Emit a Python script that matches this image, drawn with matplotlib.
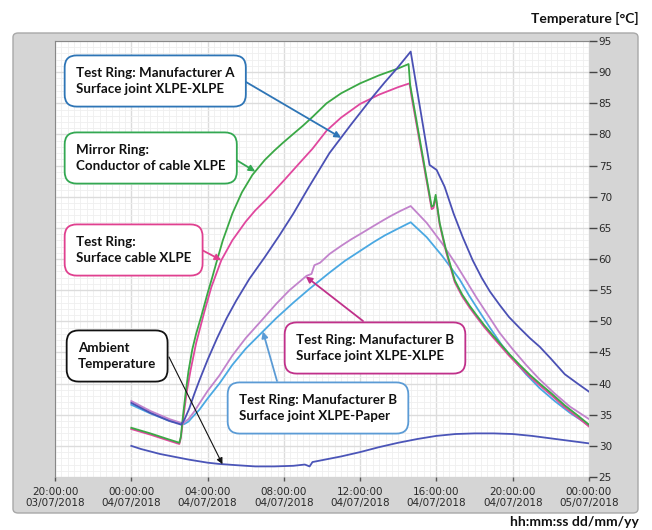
import numpy as np
import matplotlib.pyplot as plt
from matplotlib.patches import FancyBboxPatch
from matplotlib.ticker import MultipleLocator

# hours relative to 00:00:00 04/07/2018
ambient_t = [0, 0.5, 1.0, 1.5, 2.0, 3.0, 4.0, 4.6, 5.5, 6.5, 7.5, 8.5, 9.1, 9.35, 9.5, 10.0, 11.0,
             12.0, 13.0, 14.0, 15.0, 16.0, 17.0, 18.0, 19.0, 20.0, 21.0, 22.0, 23.0, 24.0]
ambient_T = [30.0, 29.5, 29.1, 28.7, 28.4, 27.8, 27.3, 27.1, 26.9, 26.7, 26.7, 26.8, 27.0, 26.7, 27.4, 27.7, 28.3,
             29.0, 29.8, 30.5, 31.1, 31.6, 31.9, 32.0, 32.0, 31.9, 31.6, 31.2, 30.8, 30.4]

manA_t = [0, 1.0, 2.0, 2.62, 2.8, 3.04, 3.3, 3.57, 4.0, 4.5, 5.0, 5.5, 6.19, 7.0, 7.77, 8.5, 9.3,
          10.39, 11.5, 12.65, 13.3, 13.96, 14.65, 15.64, 16.01, 16.43, 16.9, 17.38, 17.9, 18.37,
          18.8, 19.32, 19.8, 20.37, 20.9, 21.42, 22.0, 22.73, 23.4, 24.0]
manA_T = [36.9, 35.3, 34.0, 33.4, 34.3, 36.0, 38.3, 40.5, 43.8, 47.3, 50.5, 53.3, 56.8, 60.3, 63.8, 67.3, 71.5,
          77.0, 81.5, 86.0, 88.4, 90.7, 93.3, 75.1, 74.3, 71.6, 67.3, 63.5, 59.8, 57.0,
          54.8, 52.6, 50.7, 48.9, 47.3, 45.9, 44.0, 41.5, 40.0, 38.7]

mirror_t = [0, 1.0, 2.0, 2.52, 2.6, 2.7, 2.85, 3.0, 3.2, 3.4, 3.67, 4.0, 4.25, 4.46, 4.8, 5.3, 5.8,
            6.35, 7.0, 7.5, 7.93, 8.5, 9.0, 9.5, 10.24, 11.0, 12.0, 13.0, 14.0, 14.54,
            14.62, 15.75, 15.85, 15.96, 16.17, 16.5, 16.96, 17.35, 17.74, 18.1, 18.5, 19.0, 19.32,
            19.8, 20.37, 20.9, 21.42, 22.0, 22.73, 23.4, 24.0]
mirror_T = [32.9, 32.0, 31.0, 30.5, 31.5, 34.5, 38.5, 42.0, 45.5, 48.0, 50.8, 54.5, 57.1, 59.4, 63.0, 67.3, 70.7,
            73.5, 75.9, 77.4, 78.6, 80.1, 81.4, 82.8, 85.0, 86.6, 88.2, 89.5, 90.6, 91.3,
            88.0, 68.4, 68.6, 70.3, 65.8, 61.5, 56.6, 54.3, 52.5, 51.0, 49.4, 47.6, 46.5,
            44.8, 43.0, 41.4, 40.0, 38.5, 36.5, 34.9, 33.4]

cable_t = [0, 1.0, 2.0, 2.52, 2.6, 2.75, 2.9, 3.1, 3.4, 3.83, 4.2, 4.72, 5.3, 6.0, 6.5, 7.09, 8.0,
           8.82, 9.5, 10.24, 11.0, 12.0, 13.0, 14.0, 14.59,
           14.7, 15.75, 15.85, 15.96, 16.17, 16.5, 16.96, 17.35, 17.74, 18.1, 18.5, 19.0, 19.32,
           19.8, 20.37, 20.9, 21.42, 22.0, 22.73, 23.4, 24.0]
cable_T = [32.7, 31.8, 30.8, 30.3, 31.3, 35.0, 38.5, 42.0, 46.5, 51.5, 55.5, 59.8, 63.0, 66.0, 67.8, 69.6, 72.6,
           75.4, 77.7, 80.6, 82.7, 84.9, 86.4, 87.6, 88.2,
           86.0, 68.0, 68.2, 70.0, 65.5, 61.2, 56.3, 54.0, 52.2, 50.7, 49.1, 47.3, 46.2,
           44.5, 42.7, 41.1, 39.7, 38.2, 36.2, 34.6, 33.1]

manBx_t = [0, 1.0, 2.0, 2.7, 3.0, 3.3, 3.57, 4.0, 4.62, 5.3, 6.0, 6.88, 7.6, 8.3, 9.19, 9.45, 9.6,
           9.9, 10.39, 11.0, 11.5, 12.0, 12.65, 13.2, 13.6, 14.1, 14.65,
           15.49, 16.3, 17.06, 17.6, 18.1, 18.7, 19.3, 20.0, 20.7, 21.4, 22.2, 23.0, 24.0]
manBx_T = [37.2, 35.6, 34.3, 33.6, 34.3, 35.5, 36.8, 38.8, 41.3, 44.5, 47.3, 50.3, 52.8, 55.0, 57.3, 57.6, 59.0,
           59.4, 60.8, 62.1, 63.1, 64.0, 65.2, 66.2, 66.9, 67.7, 68.5,
           65.8, 62.5, 59.0, 56.3, 53.8, 51.0, 48.2, 45.5, 43.0, 40.7, 38.4, 36.3, 34.3]

manBp_t = [0, 1.0, 2.0, 2.78, 3.0, 3.2, 3.57, 4.0, 4.62, 5.3, 6.0, 6.88, 7.6, 8.5, 9.34, 10.39,
           11.2, 12.0, 12.7, 13.3, 14.0, 14.65,
           15.49, 16.3, 17.22, 17.7, 18.2, 18.8, 19.4, 20.0, 20.7, 21.4, 22.2, 23.0, 24.0]
manBp_T = [36.6, 35.2, 34.0, 33.5, 33.9, 34.6, 35.8, 37.6, 40.0, 43.0, 45.6, 48.3, 50.5, 53.0, 55.2, 57.8,
           59.7, 61.3, 62.7, 63.8, 64.9, 65.9,
           63.5, 60.5, 56.7, 54.2, 51.8, 49.0, 46.3, 44.0, 41.5, 39.3, 37.2, 35.3, 33.3]

tick_hours = [-4, 0, 4, 8, 12, 16, 20, 24]
tick_labels = ["20:00:00\n03/07/2018", "00:00:00\n04/07/2018", "04:00:00\n04/07/2018",
               "08:00:00\n04/07/2018", "12:00:00\n04/07/2018", "16:00:00\n04/07/2018",
               "20:00:00\n04/07/2018", "00:00:00\n05/07/2018"]

W, H = 652, 530
fig = plt.figure(figsize=(W / 100, H / 100), dpi=100)

def fx(x):
    return x / W

def fy(y):
    return 1 - y / H

# gray instrument panel
panel = FancyBboxPatch((fx(13), fy(513)), fx(638) - fx(13), fy(33) - fy(513),
                       boxstyle="round,pad=0,rounding_size=0.008", transform=fig.transFigure,
                       facecolor="#d5d5d5", edgecolor="#a8a8a8", lw=1.0, zorder=-5)
fig.patches.append(panel)

ax = fig.add_axes([fx(55), fy(477), fx(589) - fx(55), fy(41) - fy(477)])
ax.set_zorder(1)
ax.set_xlim(-4, 24)
ax.set_ylim(25, 95)

ax.xaxis.set_major_locator(MultipleLocator(4))
ax.xaxis.set_minor_locator(MultipleLocator(1 / 3))
ax.yaxis.set_major_locator(MultipleLocator(5))
ax.yaxis.set_minor_locator(MultipleLocator(1))
ax.grid(which="minor", color="#efefef", lw=0.6)
ax.grid(which="major", color="#dcdcdc", lw=1.0)
ax.set_axisbelow(True)

ax.set_xticks(tick_hours)
ax.set_xticklabels(tick_labels)
ax.yaxis.tick_right()
ax.tick_params(axis="x", which="major", length=3, width=1, color="#555555", pad=4,
               labelsize=7.5, labelcolor="#2a2a2a")
ax.tick_params(axis="y", which="major", length=6, width=1, color="#444444", pad=1,
               labelsize=7.5, labelcolor="#2a2a2a")
ax.tick_params(which="minor", length=0)
for s in ["right", "bottom"]:
    ax.spines[s].set_visible(False)
ax.spines["left"].set_color("#888888")
ax.spines["top"].set_color("#888888")

lw = 1.3
ax.plot(manBp_t, manBp_T, color="#4aa8e2", lw=lw)
ax.plot(manBx_t, manBx_T, color="#c283cc", lw=lw)
ax.plot(cable_t, cable_T, color="#e0479e", lw=lw)
ax.plot(mirror_t, mirror_T, color="#3aa845", lw=lw)
ax.plot(manA_t, manA_T, color="#4a50b4", lw=lw)
ax.plot(ambient_t, ambient_T, color="#4b55b8", lw=lw)

boxes = [
    ("Test Ring: Manufacturer A\nSurface joint XLPE-XLPE", 76, 81, "#2e75b6",
     (246, 82), manA_t, manA_T, 11.0),
    ("Mirror Ring:\nConductor of cable XLPE", 76, 158, "#33a852",
     (233, 158), mirror_t, mirror_T, 6.5),
    ("Test Ring:\nSurface cable XLPE", 76, 250, "#e0408f",
     (200, 249), cable_t, cable_T, 4.72),
    ("Ambient\nTemperature", 78, 356, "#111111",
     (169, 357), ambient_t, ambient_T, 4.78),
    ("Test Ring: Manufacturer B\nSurface joint XLPE-XLPE", 296, 348, "#c0308a",
     (363, 321), manBx_t, manBx_T, 9.15),
    ("Test Ring: Manufacturer B\nSurface joint XLPE-Paper", 239, 408, "#5b9bd5",
     (277, 381), manBp_t, manBp_T, 6.9),
]

for text, tx, ty, col, start, ts, Ts, t_hit in boxes:
    fig.text(fx(tx), fy(ty), text, ha="left", va="center", fontsize=9.6, family="Lato",
             weight="bold", color="#111111", linespacing=1.45, zorder=5,
             bbox=dict(boxstyle="round,pad=0.85,rounding_size=0.9", fc="white", ec=col, lw=1.3))
    arrow_lw = 0.8 if col == "#111111" else 1.3
    ax.annotate("", xy=(t_hit, np.interp(t_hit, ts, Ts)), xycoords="data",
                xytext=(start[0], H - start[1]), textcoords="figure pixels",
                arrowprops=dict(arrowstyle="-|>", color=col, lw=arrow_lw, mutation_scale=9,
                                shrinkA=0, shrinkB=0), zorder=4)

fig.text(fx(639), fy(18), "Temperature [°C]", ha="right", va="center", fontsize=10,
         family="Lato", weight="bold", color="#111111")
fig.text(fx(639), fy(522), "hh:mm:ss dd/mm/yy", ha="right", va="center", fontsize=10,
         family="Lato", weight="bold", color="#111111")

fig.savefig("out.png", dpi=100)
